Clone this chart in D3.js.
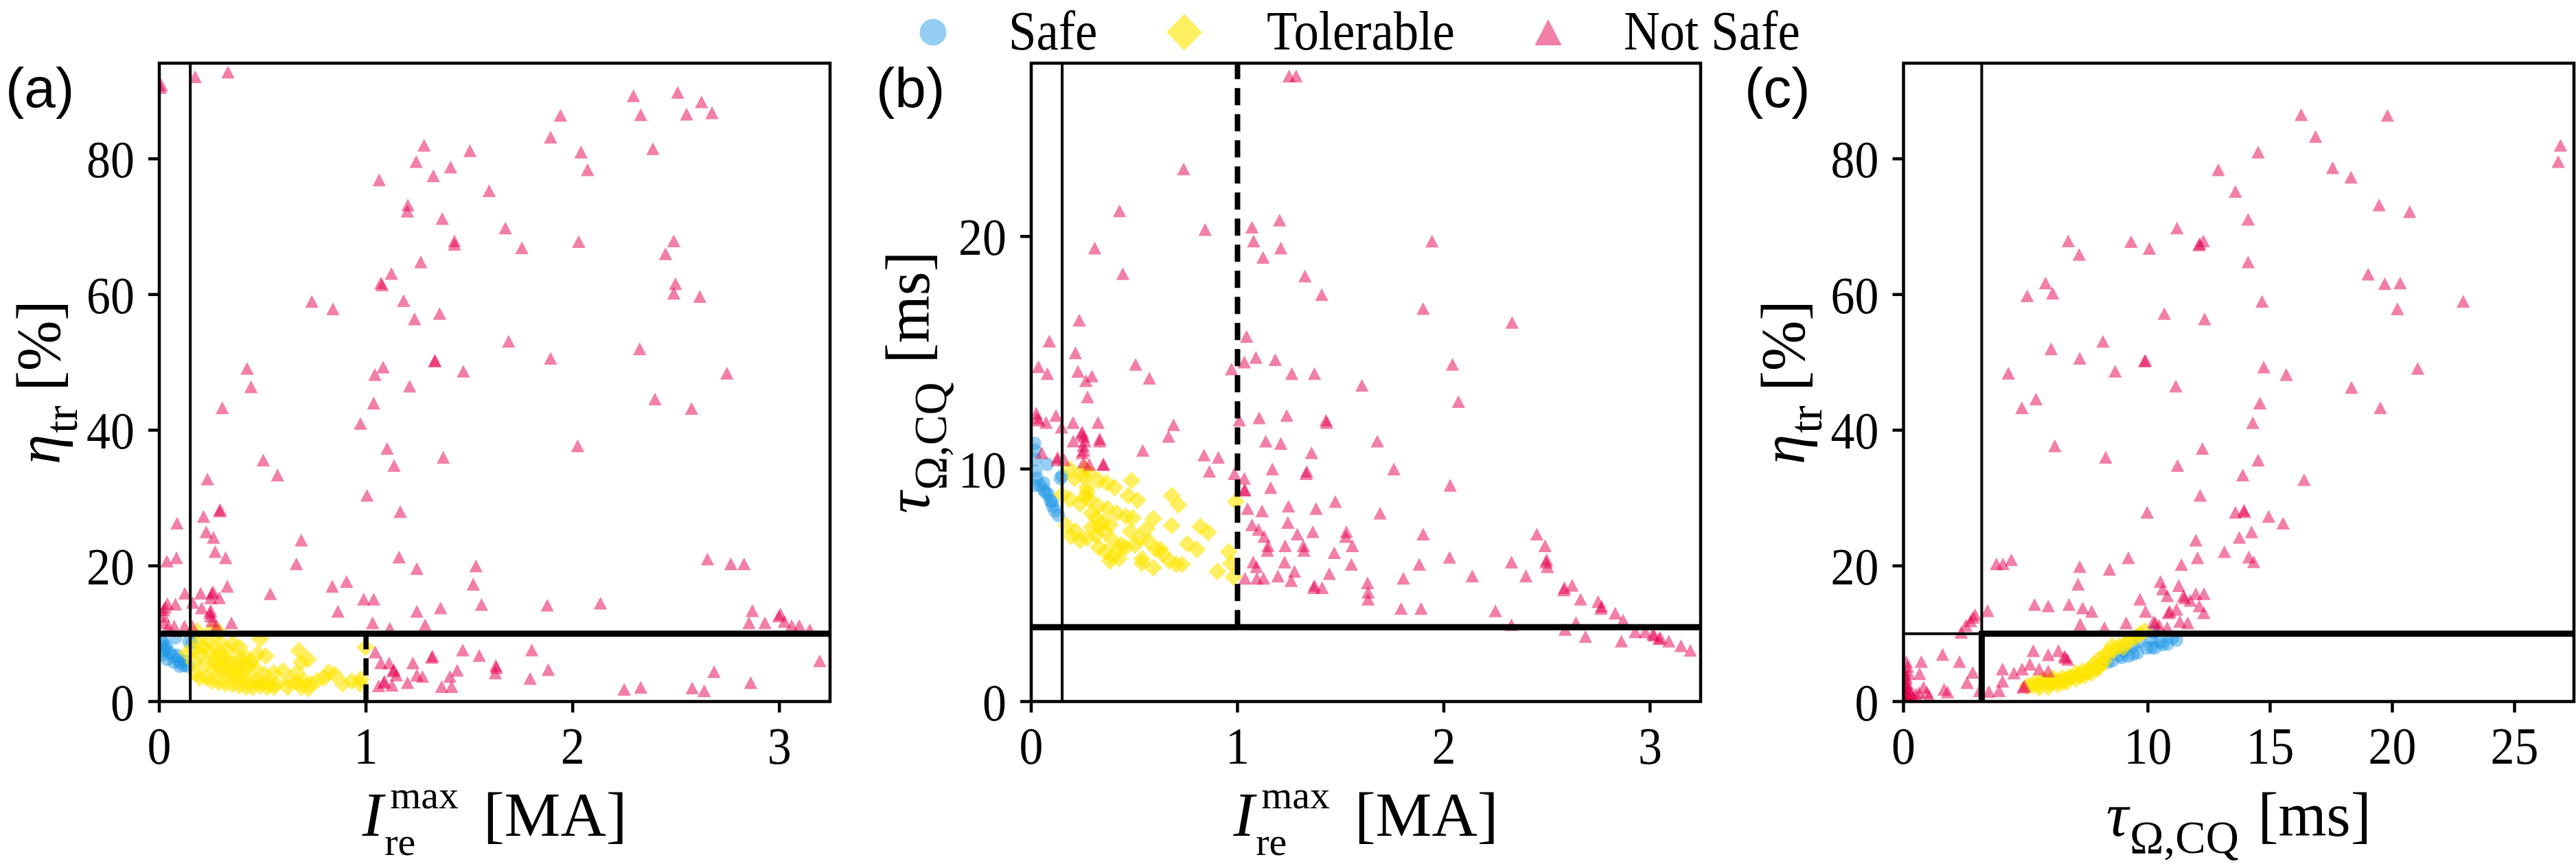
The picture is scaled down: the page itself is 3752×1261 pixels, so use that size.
<!DOCTYPE html>
<html><head><meta charset="utf-8">
<script src="https://cdn.jsdelivr.net/npm/d3@7"></script>
<style>body{margin:0;background:#fff;overflow:hidden}</style>
</head><body>
<svg id="chart" width="3752" height="1261"></svg>
<script>
// ---------------- DATA ----------------
const classNames = ["Safe", "Tolerable", "Not Safe"];
const ticksA_x = [0, 1, 2, 3];
const ticksA_y = [0, 20, 40, 60, 80];
const ticksB_y = [0, 10, 20];
const ticksC_x = [0, 10, 15, 20, 25];
const thrIre = 0.15, thrEta = 10, thrTau = 3.2, thrIreDash = 1.0;

// panel (a): I_re^max [MA] vs eta_tr [%]
const aSafe = [[0.017,8.7],[0.033,8.2],[0.078,9.4],[0.144,8.8],[0.16,8.6],[0.022,7.5],[0.017,6.9],[0.05,7.2],[0.066,6.7],[0.089,6.2],[0.105,5.7],[0.122,5.3],[0.139,5.2],[0.039,6.2],[0.072,5.8],[0.1,5.2],[0.01,9.0],[0.03,7.8],[0.085,6.8],[0.12,6.0]];
const aTol = [[0.183,10.4],[0.26,10.6],[0.288,10.3],[0.488,9.2],[0.188,8.7],[0.238,8.9],[0.294,8.7],[0.355,8.5],[0.388,8.0],[0.676,7.5],[0.72,6.2],[0.476,7.0],[0.515,6.7],[0.199,7.0],[0.244,7.4],[0.277,6.5],[0.31,6.4],[0.332,5.8],[0.366,5.5],[0.399,5.3],[0.432,5.2],[0.465,4.8],[0.222,5.5],[0.266,4.8],[0.299,4.5],[0.332,4.2],[0.366,3.8],[0.399,3.5],[0.432,3.1],[0.465,3.0],[0.499,2.8],[0.532,2.6],[0.565,2.6],[0.598,4.5],[0.632,3.0],[0.665,2.8],[0.698,3.0],[0.731,2.6],[0.765,3.1],[0.798,3.5],[0.82,4.3],[0.848,4.0],[0.887,2.6],[0.931,3.0],[0.97,2.6],[0.975,3.3],[0.997,8.0],[0.177,4.2],[0.194,3.5],[0.227,3.5],[0.255,3.0],[0.288,2.8],[0.321,2.6],[0.355,2.5],[0.388,2.3],[0.421,2.1],[0.454,2.1],[0.488,2.3],[0.521,2.1],[0.554,2.1],[0.621,2.1],[0.687,2.1],[0.72,1.9],[0.166,7.5],[0.166,5.8],[0.216,8.0],[0.332,7.5],[0.421,6.5],[0.443,5.8],[0.388,6.5],[0.288,7.5],[0.266,5.8],[0.31,5.2],[0.355,4.5],[0.399,4.3],[0.51,4.0],[0.554,4.2],[0.665,4.2],[0.687,5.8],[0.135,7.2]];
const aNot = [[0.01,90.9],[0.005,90.5],[0.174,92.1],[0.332,92.8],[2.294,89.3],[2.508,89.8],[2.329,86.5],[2.551,86.6],[2.623,88.4],[2.674,86.8],[1.941,86.4],[1.893,83.2],[2.388,81.5],[2.04,81.0],[2.072,78.4],[1.281,82.0],[1.503,81.2],[1.243,79.6],[1.409,78.8],[1.326,77.5],[1.064,76.9],[1.596,75.3],[1.203,73.2],[1.2,72.3],[1.369,71.2],[1.674,69.8],[1.428,67.9],[1.428,67.4],[1.754,66.9],[2.029,67.8],[2.489,67.9],[2.449,66.0],[1.265,64.8],[1.123,63.1],[1.072,61.7],[1.078,61.4],[2.497,61.6],[2.489,60.2],[2.615,59.7],[0.738,59.0],[0.84,57.9],[1.182,59.1],[1.235,56.4],[1.356,57.2],[1.69,53.1],[2.324,52.0],[1.332,50.2],[1.334,50.3],[1.893,50.6],[1.471,48.7],[2.746,48.4],[0.425,49.1],[0.444,46.4],[1.083,49.3],[1.043,48.2],[1.211,46.5],[1.037,44.0],[2.398,44.6],[2.575,43.2],[0.305,43.3],[0.973,41.0],[2.024,37.7],[1.102,37.3],[1.136,34.8],[1.374,36.0],[0.503,35.6],[0.572,33.4],[0.233,32.8],[1.005,30.4],[1.166,28.0],[0.291,28.1],[0.295,28.3],[0.214,27.3],[0.086,26.3],[0.227,25.0],[0.262,24.2],[0.27,22.1],[0.687,23.8],[0.037,20.7],[0.083,21.2],[0.321,21.2],[0.663,20.3],[1.16,21.3],[1.246,19.6],[1.532,20.0],[1.519,17.3],[0.329,17.0],[0.837,17.0],[0.906,17.7],[0.537,15.9],[1.559,14.3],[1.877,14.2],[2.134,14.5],[2.652,21.0],[2.765,20.3],[2.829,20.3],[0.989,15.1],[1.037,15.1],[0.864,13.3],[1.246,13.3],[1.361,13.8],[1.032,11.6],[1.115,10.8],[1.286,11.3],[2.869,13.4],[2.853,11.6],[2.93,11.6],[2.997,12.6],[3.005,12.9],[3.024,11.8],[3.059,11.2],[3.096,11.2],[3.147,10.6],[3.195,6.0],
[0.124,15.97],[0.2,15.97],[0.255,15.97],[0.26,16.2],[0.249,15.3],[0.29,15.3],[0.039,14.45],[0.078,14.35],[0.028,13.9],[0.02,13.5],[0.161,14.6],[0.205,13.8],[0.249,13.4],[0.245,13.1],[0.249,12.6],[0.022,12.6],[0.349,11.6],[0.255,11.9],[0.022,11.6],[0.044,11.1],[0.072,11.1],[0.122,11.1],[0.16,11.1],[0.277,11.2],
[1.045,7.3],[1.072,5.7],[1.112,5.7],[1.131,4.5],[1.135,4.7],[1.147,3.9],[1.086,2.8],[1.09,3.0],[1.061,2.3],[1.126,2.4],[1.201,2.8],[1.227,5.7],[1.246,3.9],[1.273,3.7],[1.318,6.5],[1.322,6.7],[1.468,7.6],[1.548,6.8],[1.441,4.6],[1.406,3.7],[1.366,2.2],[1.414,2.2],[1.628,5.3],[1.631,5.0],[1.626,4.2],[1.802,7.6],[1.794,3.4],[1.882,4.7],[2.249,1.8],[2.329,2.1],[2.578,2.0],[2.636,1.6],[2.684,4.4],[2.861,2.8]];

// panel (b): I_re^max [MA] vs tau_Omega,CQ [ms]
const bSafe = [[0.016,11.1],[0.016,10.8],[0.02,10.4],[0.077,10.2],[0.021,9.9],[0.142,9.6],[0.027,9.6],[0.043,9.3],[0.06,9.4],[0.06,9.1],[0.082,8.9],[0.093,8.65],[0.104,8.4],[0.115,8.2],[0.132,8.0],[0.01,9.3],[0.15,9.7],[0.07,9.0],[0.1,8.6]];
const bTol = [[0.187,10.0],[0.26,10.0],[0.282,9.8],[0.21,9.6],[0.249,9.7],[0.326,9.5],[0.365,9.4],[0.404,9.2],[0.487,9.5],[0.271,9.0],[0.47,8.85],[0.515,8.65],[0.681,8.85],[0.714,8.45],[0.149,8.9],[0.187,8.7],[0.237,8.5],[0.282,8.7],[0.326,8.4],[0.37,8.3],[0.415,8.1],[0.459,7.96],[0.492,7.9],[0.592,7.86],[0.681,7.57],[0.82,7.52],[0.858,7.27],[0.171,7.57],[0.215,7.32],[0.271,7.03],[0.315,7.13],[0.326,7.52],[0.359,7.32],[0.393,6.93],[0.437,6.73],[0.481,7.32],[0.526,7.03],[0.559,7.42],[0.57,6.89],[0.603,6.55],[0.637,6.34],[0.67,6.05],[0.703,5.9],[0.731,5.9],[0.758,6.78],[0.803,6.54],[0.326,6.63],[0.359,6.44],[0.393,6.24],[0.426,6.14],[0.381,6.04],[0.426,6.54],[0.459,6.63],[0.503,6.73],[0.537,6.14],[0.537,5.94],[0.592,5.75],[0.237,6.93],[0.26,8.8],[0.903,5.6],[0.958,6.44],[0.969,5.94],[0.98,5.35],[0.991,8.6],[0.293,8.1],[0.315,7.9],[0.348,7.7],[0.381,7.6],[0.626,6.55],[0.27,9.2],[0.193,7.1],[0.293,7.5]];
const bNot = [[1.25,26.9],[1.284,26.9],[0.739,22.9],[0.428,21.1],[0.843,20.3],[0.308,19.5],[0.444,18.4],[1.07,20.4],[1.204,20.7],[1.078,19.8],[1.21,19.5],[1.124,19.1],[1.943,19.8],[1.327,18.3],[1.408,17.5],[1.9,16.9],[2.331,16.3],[0.233,16.4],[0.088,15.5],[0.035,14.4],[0.078,14.1],[0.214,15.0],[0.227,14.2],[0.506,14.5],[0.573,13.9],[0.265,13.8],[0.294,14.0],[0.273,13.1],[1.044,15.7],[0.971,14.3],[1.033,14.6],[1.089,14.8],[1.183,14.7],[1.263,14.1],[1.373,14.1],[1.603,13.6],[2.042,14.5],[2.071,12.9],[0.024,12.4],[0.028,12.2],[0.037,12.1],[0.072,12.0],[0.12,12.3],[0.147,11.8],[0.203,12.0],[0.244,11.5],[0.247,11.6],[0.254,11.4],[0.324,12.0],[0.332,11.3],[0.252,11.0],[0.246,10.7],[0.051,10.7],[0.128,10.5],[0.351,10.2],[0.69,11.9],[0.666,11.4],[0.541,10.8],[0.838,10.6],[0.907,10.5],[0.864,9.9],[0.985,9.8],[1.009,12.1],[1.105,12.2],[1.239,12.3],[1.429,12.1],[1.432,12.0],[1.137,11.2],[1.21,11.1],[1.678,11.2],[1.359,10.7],[1.169,10.0],[1.333,9.8],[1.336,9.9],[1.758,10.0],[2.031,9.3],[1.033,9.6],[1.033,9.1],[1.161,9.2],[1.049,8.3],[1.119,8.2],[1.247,8.4],[1.381,8.3],[1.474,8.6],[1.691,8.1],[1.07,7.6],[1.102,7.4],[1.129,7.1],[1.244,7.7],[1.29,7.2],[1.365,7.3],[1.145,6.5],[1.148,6.7],[1.231,6.7],[1.319,6.7],[1.322,6.5],[1.525,7.1],[1.528,7.3],[1.557,6.7],[1.469,6.4],[1.9,7.2],[2.028,6.2],[1.881,5.9],[1.076,6.0],[1.092,5.8],[1.228,6.0],[1.276,5.6],[1.036,5.3],[1.094,5.3],[1.126,5.3],[1.196,5.4],[1.26,5.2],[1.445,5.5],[1.552,5.9],[1.37,4.9],[1.373,5.0],[1.41,4.9],[1.63,5.1],[1.633,4.7],[1.633,4.4],[1.804,5.3],[1.793,4.0],[1.89,4.0],[2.138,5.4],[2.25,3.9],[2.328,6.0],[2.398,5.4],[2.451,7.2],[2.491,6.7],[2.496,6.0],[2.499,6.1],[2.502,5.8],[2.328,3.3],[2.582,4.8],[2.585,4.9],[2.622,5.0],[2.663,4.4],[2.588,3.1],[2.641,3.4],[2.687,2.8],[2.748,4.3],[2.762,4.0],[2.765,4.1],[2.831,3.8],[2.869,3.5],[2.861,2.6],[2.928,3.0],[2.976,3.0],[3.013,2.9],[3.02,2.85],[3.043,2.7],[3.05,2.75],[3.091,2.6],[3.15,2.4],[3.195,2.2],[0.204,11.2],[0.26,11.2],[0.255,10.8],[0.254,10.3],[0.282,10.2],[0.348,10.2],[0.126,10.4],[0.16,10.4],[0.332,11.2],[1.036,9.1]];

// panel (c): tau_Omega,CQ [ms] vs eta_tr [%]
const cSafe = [[7.98,5.3],[8.36,5.8],[8.54,6.0],[8.92,6.5],[9.2,6.7],[9.39,7.0],[9.57,7.2],[9.95,7.9],[10.14,8.0],[10.28,7.9],[10.6,8.4],[10.8,8.5],[11.17,9.05],[9.67,8.9],[10.14,9.2],[10.23,10.2],[8.83,6.8],[9.0,7.5],[9.4,8.2],[10.5,8.8],[11.0,9.4]];
const cTol = [[5.27,2.3],[5.55,2.5],[5.74,2.8],[6.02,3.0],[6.3,3.1],[6.49,3.5],[6.77,3.6],[7.05,4.2],[7.33,4.5],[7.61,4.8],[7.8,5.5],[5.55,2.0],[5.92,2.1],[6.3,2.5],[6.67,2.8],[7.05,3.3],[7.42,3.8],[7.7,4.2],[7.98,6.2],[8.36,7.2],[8.54,8.2],[8.83,8.2],[9.11,8.7],[9.29,9.2],[9.67,9.9],[9.85,10.4],[8.26,6.9],[6.11,3.5],[5.74,3.3],[6.49,2.8],[6.86,3.5],[7.23,3.8],[7.5,4.4],[8.08,5.5],[5.36,2.8],[5.08,2.3],[8.0,5.0],[8.2,6.0],[8.6,7.5],[9.0,8.0],[9.5,9.5],[6.0,2.6],[6.6,3.2],[7.2,3.9],[7.9,4.8]];
const cNot = [[16.27,86.5],[19.8,86.4],[16.86,83.3],[26.88,82.0],[26.79,79.6],[14.51,81.0],[12.88,78.4],[17.56,78.7],[18.31,77.3],[13.58,75.2],[19.46,73.2],[20.71,72.2],[14.1,71.1],[11.19,69.8],[6.74,67.9],[7.19,65.9],[9.31,67.8],[10.06,66.8],[12.09,67.3],[12.12,67.5],[12.27,67.9],[14.1,64.8],[19.01,63.0],[19.69,61.6],[20.32,61.7],[20.21,57.9],[22.9,59.0],[5.81,61.7],[6.1,60.2],[5.06,59.8],[14.67,59.0],[10.67,57.2],[12.32,56.4],[6.04,52.0],[8.16,53.1],[9.86,50.2],[9.9,50.3],[7.21,50.6],[8.66,48.7],[4.29,48.4],[14.74,49.3],[15.66,48.2],[21.04,49.1],[11.14,46.5],[18.33,46.3],[5.42,44.6],[4.84,43.3],[14.58,44.0],[19.51,43.3],[14.29,41.1],[6.19,37.7],[12.23,37.3],[8.27,36.0],[14.51,35.6],[11.21,34.8],[13.88,33.4],[16.39,32.7],[12.14,30.4],[9.97,27.9],[13.58,27.9],[13.92,28.2],[13.95,28.0],[14.94,27.3],[15.53,26.3],[13.74,24.2],[14.24,25.0],[11.96,23.8],[13.13,22.1],[14.13,21.3],[14.33,20.6],[12.03,21.2],[11.37,20.2],[9.2,21.2],[7.21,19.9],[8.43,19.5],[3.8,20.3],[4.07,20.3],[4.41,20.9],
[2.36,10.2],[2.55,11.25],[2.74,11.9],[2.93,12.8],[2.85,12.4],[3.44,13.4],[5.36,14.3],[5.92,14.1],[6.77,14.3],[7.33,13.8],[7.7,13.3],[7.23,11.4],[8.22,10.9],[9.11,11.6],[7.14,17.3],[9.67,15.1],[9.9,13.3],[10.51,17.7],[10.6,16.6],[10.79,15.6],[11.26,17.1],[11.45,15.6],[11.5,15.3],[11.73,14.9],[11.96,15.9],[12.29,15.9],[12.1,14.1],[12.29,13.1],[10.84,13.1],[10.9,13.3],[11.17,13.6],[11.31,11.8],[11.63,11.6],[10.23,11.8],[10.3,11.6],[10.46,11.25],[10.79,10.9],
[0.117,5.84],[0.164,5.16],[0.21,4.15],[0.117,3.48],[0.164,2.63],[0.21,1.79],[0.304,1.28],[0.117,0.95],[0.398,0.61],[0.257,0.44],[0.07,1.45],[0.117,2.13],[0.05,3.0],[0.05,0.5],[0.1,0.2],[0.03,4.6],[0.08,2.4],[0.15,1.1],[0.04,1.9],[0.2,0.8],[0.06,3.9],
[0.73,5.9],[0.66,4.1],[1.6,6.95],[2.29,5.9],[2.83,4.3],[2.6,2.8],[0.82,2.1],[0.96,1.4],[1.66,1.8],[1.8,1.4],[3.11,1.6],[3.49,1.5],[0.49,1.1],[1.05,0.8],[0.63,1.3],
[3.91,1.6],[4.05,3.0],[4.05,4.8],[4.52,4.2],[4.85,4.8],[4.89,2.1],[4.95,2.3],[5.17,5.5],[5.31,7.5],[5.55,4.8],[5.92,6.9],[6.34,7.5],[6.58,6.7],[6.62,6.5],[6.72,6.2],[5.92,4.5]];

// ---------------- STYLE ----------------
const SERIF = "'Liberation Serif','Times New Roman',serif";
const SANS = "'Liberation Sans',Arial,sans-serif";
const colSafe = "#1e96e6", colTol = "#ffe500", colNot = "#e6004f";
const opSafe = 0.47, opTol = 0.62, opNot = 0.5;

const svg = d3.select("#chart");
svg.append("rect").attr("width", 3752).attr("height", 1261).attr("fill", "#fff");

const panels = [
  { key: "a", left: 232, right: 1209, xDom: [0, 3.245], yDom: [0, 94.1], xt: ticksA_x, yt: ticksA_y,
    safe: aSafe, tol: aTol, not: aNot, tag: "(a)", tagX: 8,
    xl: "I", yl: "eta", ylX: 87, xlW: 386, ylW: 239 },
  { key: "b", left: 1502, right: 2477, xDom: [0, 3.245], yDom: [0, 27.45], xt: ticksA_x, yt: ticksB_y,
    safe: bSafe, tol: bTol, not: bNot, tag: "(b)", tagX: 1276,
    xl: "I", yl: "tau", ylX: 1353, xlW: 386, ylW: 382 },
  { key: "c", left: 2772.5, right: 3749, xDom: [0, 27.43], yDom: [0, 94.1], xt: ticksC_x, yt: ticksA_y,
    safe: cSafe, tol: cTol, not: cNot, tag: "(c)", tagX: 2541,
    xl: "tau", yl: "eta", ylX: 2628, xlW: 386, ylW: 239 }
];
const TOP = 92, BOT = 1021.5;

function scaledText(parent, x, y, str, size, sx, anchor, family) {
  return parent.append("text")
    .attr("transform", `translate(${x},${y}) scale(${sx},1)`)
    .attr("text-anchor", anchor || "start")
    .attr("font-family", family || SERIF)
    .attr("font-size", size)
    .attr("fill", "#000")
    .text(str);
}

// math label in ONE text element: cols = [{t, it, gap} | {sup, sub, gap}]
function mathLabel(parent, cols, size) {
  const g = parent.append("g");
  const txt = g.append("text").attr("font-family", SERIF).attr("fill", "#000").attr("font-size", size);
  let x = 0;
  cols.forEach(c => {
    if (c.t !== undefined) {
      const t = txt.append("tspan").attr("x", x).attr("y", 0)
        .attr("font-style", c.it ? "italic" : "normal").text(c.t);
      x += t.node().getComputedTextLength() + (c.gap || 0);
    } else {
      let w = 0;
      const xs = x + (c.dx || 0);
      const small = size * (c.scale || 0.74);
      if (c.sup) {
        const t = txt.append("tspan").attr("x", xs + (c.supdx || 0)).attr("y", -0.44 * size)
          .attr("font-size", small).text(c.sup);
        w = Math.max(w, t.node().getComputedTextLength() + (c.supdx || 0));
      }
      if (c.sub) {
        const t = txt.append("tspan").attr("x", xs).attr("y", (c.subY || 0.27) * size)
          .attr("font-size", small).text(c.sub);
        w = Math.max(w, t.node().getComputedTextLength());
      }
      x = xs + w + (c.gap || 0);
    }
  });
  return { g, width: x };
}
const labelDefs = {
  I: [{ t: "I", it: true }, { sup: "max", sub: "re", dx: 2, supdx: 8, gap: 36, scale: 0.63, subY: 0.3 }, { t: "[MA]" }],
  eta: [{ t: "η", it: true }, { sub: "tr", dx: 2, gap: 22 }, { t: "[%]" }],
  tau: [{ t: "τ", it: true }, { sub: "Ω,CQ", dx: 2, gap: 28 }, { t: "[ms]" }]
};
const LBL = 92;

panels.forEach(p => {
  const x = d3.scaleLinear().domain(p.xDom).range([p.left, p.right]);
  const y = d3.scaleLinear().domain(p.yDom).range([BOT, TOP]);
  const g = svg.append("g");
  const clipId = "clip-" + p.key;
  svg.append("clipPath").attr("id", clipId).append("rect")
    .attr("x", p.left).attr("y", TOP).attr("width", p.right - p.left).attr("height", BOT - TOP);
  const plot = g.append("g").attr("clip-path", `url(#${clipId})`);

  plot.append("g").selectAll("circle").data(p.safe).join("circle")
    .attr("cx", d => x(d[0])).attr("cy", d => y(d[1])).attr("r", 10)
    .attr("fill", colSafe).attr("fill-opacity", opSafe);
  const h = 13;
  plot.append("g").selectAll("path").data(p.tol).join("path")
    .attr("transform", d => `translate(${x(d[0])},${y(d[1])})`)
    .attr("d", `M0,${-h}L${h},0L0,${h}L${-h},0Z`)
    .attr("fill", colTol).attr("fill-opacity", opTol);
  const tw = 9.7, th = 9.3;
  plot.append("g").selectAll("path").data(p.not).join("path")
    .attr("transform", d => `translate(${x(d[0])},${y(d[1])})`)
    .attr("d", `M0,${-th}L${tw},${th}L${-tw},${th}Z`)
    .attr("fill", colNot).attr("fill-opacity", opNot);

  const L = g.append("g").attr("stroke", "#000").attr("fill", "none");
  const line = (x1, y1, x2, y2, w, dash) => {
    const l = L.append("line").attr("x1", x1).attr("y1", y1).attr("x2", x2).attr("y2", y2).attr("stroke-width", w);
    if (dash) l.attr("stroke-dasharray", dash);
  };
  if (p.key === "a") {
    line(x(thrIre), BOT, x(thrIre), TOP, 4);
    line(p.left, y(thrEta), p.right, y(thrEta), 9);
    line(x(thrIreDash), BOT, x(thrIreDash), y(thrEta), 7.5, "25,13");
  } else if (p.key === "b") {
    line(x(thrIre), BOT, x(thrIre), TOP, 4);
    line(p.left, y(thrTau), p.right, y(thrTau), 9);
    line(x(thrIreDash), y(thrTau), x(thrIreDash), TOP, 8, "25,13");
  } else {
    line(x(thrTau), BOT, x(thrTau), TOP, 4);
    line(p.left, y(thrEta), x(thrTau), y(thrEta), 4);
    line(x(thrTau), y(thrEta), p.right, y(thrEta), 9);
    line(x(thrTau), BOT, x(thrTau), y(thrEta) - 4, 9);
  }

  g.append("rect").attr("x", p.left).attr("y", TOP).attr("width", p.right - p.left).attr("height", BOT - TOP)
    .attr("fill", "none").attr("stroke", "#000").attr("stroke-width", 4.5);

  const T = g.append("g");
  p.xt.forEach(v => {
    T.append("line").attr("x1", x(v)).attr("x2", x(v)).attr("y1", BOT).attr("y2", BOT + 16)
      .attr("stroke", "#000").attr("stroke-width", 4.5);
    scaledText(T, x(v), 1112, String(v), 76, 0.92, "middle");
  });
  p.yt.forEach(v => {
    T.append("line").attr("x1", p.left).attr("x2", p.left - 16).attr("y1", y(v)).attr("y2", y(v))
      .attr("stroke", "#000").attr("stroke-width", 4.5);
    scaledText(T, p.left - 36, y(v) + 27, String(v), 76, 0.92, "end");
  });

  const xlab = mathLabel(g, labelDefs[p.xl], LBL);
  const sxx = p.xlW / xlab.width;
  const cx = (p.left + p.right) / 2;
  xlab.g.attr("transform", `translate(${cx - p.xlW / 2},1217) scale(${sxx},1)`);
  const ylab = mathLabel(g, labelDefs[p.yl], LBL);
  const sxy = p.ylW / ylab.width;
  const cy = (TOP + BOT) / 2;
  ylab.g.attr("transform", `translate(${p.ylX},${cy}) rotate(-90) scale(${sxy},1) translate(${-ylab.width / 2},0)`);

  g.append("text").attr("x", p.tagX).attr("y", 156).attr("font-family", SANS).attr("font-size", 82)
    .attr("fill", "#000").text(p.tag);
});

// ---------------- LEGEND ----------------
const leg = svg.append("g");
const legY = 47;
const legMarkX = [1359, 1725, 2255];
const legTextX = [1469, 1845, 2365];
leg.append("circle").attr("cx", legMarkX[0]).attr("cy", legY).attr("r", 19.5)
  .attr("fill", colSafe).attr("fill-opacity", opSafe);
leg.append("path").attr("transform", `translate(${legMarkX[1]},${legY})`)
  .attr("d", "M0,-26.5L26,0L0,26.5L-26,0Z").attr("fill", colTol).attr("fill-opacity", opTol);
leg.append("path").attr("transform", `translate(${legMarkX[2]},${legY})`)
  .attr("d", "M0,-19L19.5,19L-19.5,19Z").attr("fill", colNot).attr("fill-opacity", opNot);
classNames.forEach((n, i) => scaledText(leg, legTextX[i], 72, n, 80, 0.91, "start"));
</script>
</body></html>
